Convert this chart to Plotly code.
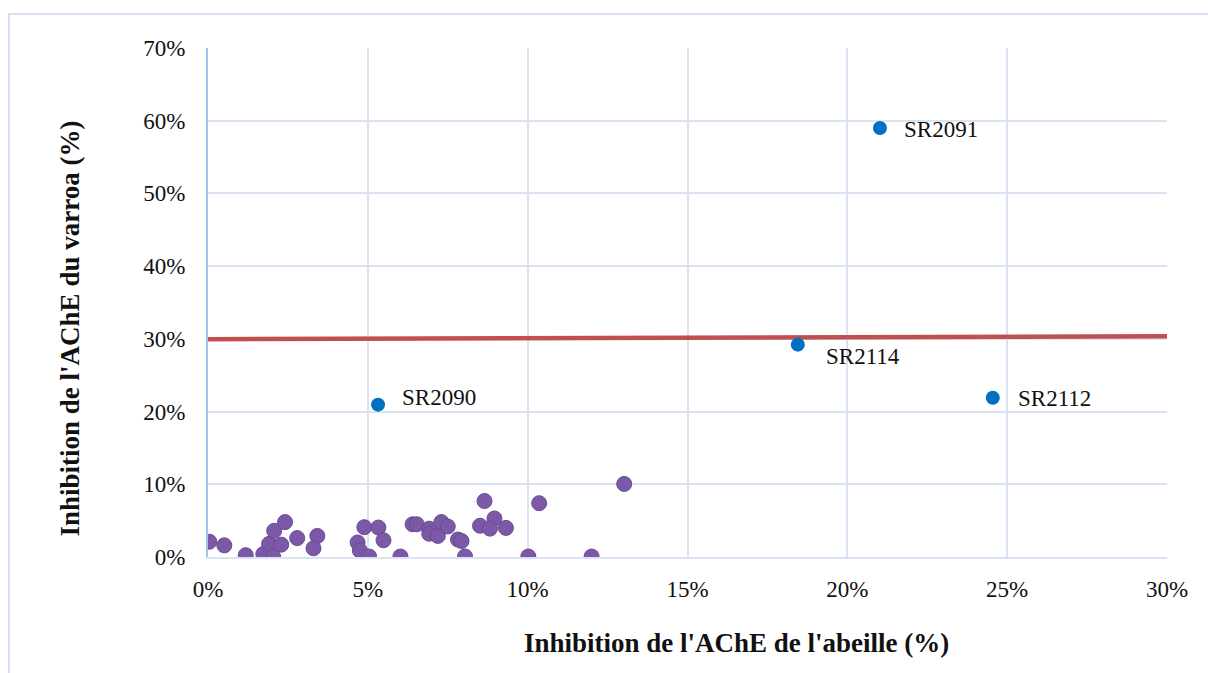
import plotly.graph_objects as go

# Inhibition de l'AChE (fractions) : abeille (x) vs varroa (y)
bee_inhib = [0.0004, 0.0051, 0.0118, 0.0173, 0.0191, 0.0204, 0.0207, 0.0241, 0.0229,
             0.0279, 0.0342, 0.0330, 0.0468, 0.0475, 0.0504, 0.0489, 0.0533, 0.0549,
             0.0602, 0.0640, 0.0653, 0.0692, 0.0692, 0.0719, 0.0730, 0.0750, 0.0782,
             0.0793, 0.0804, 0.0865, 0.0851, 0.0896, 0.0882, 0.0932, 0.1002, 0.1036,
             0.1200, 0.1302]
varroa_inhib = [0.021, 0.016, 0.0025, 0.004, 0.018, 0.000, 0.036, 0.048, 0.017,
                0.026, 0.029, 0.012, 0.020, 0.009, 0.0007, 0.041, 0.0405, 0.023,
                0.0007, 0.045, 0.045, 0.039, 0.032, 0.029, 0.048, 0.042, 0.024,
                0.022, 0.0007, 0.077, 0.043, 0.053, 0.039, 0.040, 0.0007, 0.074,
                0.0007, 0.1005]

# Composés sélectionnés
sel_names = ["SR2090", "SR2091", "SR2114", "SR2112"]
sel_bee = [0.0532, 0.2102, 0.1845, 0.2455]
sel_varroa = [0.2095, 0.590, 0.292, 0.219]
# décalage des étiquettes (px) par rapport au point
sel_label_dx = [22, 22, 26, 23]
sel_label_dy = [7, -2, -12, -1]

# Seuil de sélection
threshold_x = [0.0, 0.30]
threshold_y = [0.2995, 0.3035]

x_title = "Inhibition de l'AChE de l'abeille (%)"
y_title = "Inhibition de l'AChE du varroa (%)"

serif = "Liberation Serif, Times New Roman, serif"
grid_col = "#DAE3F3"

fig = go.Figure()

fig.add_trace(go.Scatter(
    x=threshold_x, y=threshold_y, mode="lines",
    line=dict(color="#C0504D", width=4.5), hoverinfo="skip", showlegend=False,
))

fig.add_trace(go.Scatter(
    x=bee_inhib, y=varroa_inhib, mode="markers",
    marker=dict(size=15, color="#7B59A7", line=dict(color="#6A4B96", width=1)),
    showlegend=False,
))

fig.add_trace(go.Scatter(
    x=sel_bee, y=sel_varroa, mode="markers",
    marker=dict(size=14, color="#0070C0"),
    showlegend=False,
))

for name, xv, yv, dx, dy in zip(sel_names, sel_bee, sel_varroa, sel_label_dx, sel_label_dy):
    fig.add_annotation(
        x=xv, y=yv, text=name, showarrow=False,
        xanchor="left", yanchor="middle", xshift=dx, yshift=dy,
        font=dict(family=serif, size=23, color="#111111"),
    )

# Titres des axes
fig.add_annotation(
    xref="paper", yref="paper", x=0.5516, y=-0.169,
    text="<b>" + x_title + "</b>", showarrow=False,
    xanchor="center", yanchor="middle",
    font=dict(family=serif, size=27, color="#111111"),
)
fig.add_annotation(
    xref="paper", yref="paper", x=-0.1439, y=0.449,
    text="<b>" + y_title + "</b>", showarrow=False, textangle=-90,
    xanchor="center", yanchor="middle",
    font=dict(family=serif, size=27, color="#111111"),
)

# Cadre extérieur du graphique
fig.add_shape(type="rect", xref="paper", yref="paper",
              x0=-0.2075, x1=1.2, y0=-0.4, y1=1.0668,
              line=dict(color="#D6E2F4", width=2), layer="below")

fig.update_layout(
    width=1208, height=673,
    margin=dict(l=208, r=41, t=48, b=116),
    paper_bgcolor="white", plot_bgcolor="white",
    font=dict(family=serif, size=23, color="#111111"),
    xaxis=dict(
        range=[0, 0.30], tickvals=[0, 0.05, 0.10, 0.15, 0.20, 0.25, 0.30],
        tickformat=".0%", showgrid=True, gridcolor=grid_col, gridwidth=2,
        zeroline=False, showline=True, linecolor=grid_col, linewidth=2,
        ticks="", ticklabelstandoff=10,
    ),
    yaxis=dict(
        range=[0, 0.70], tickvals=[0, 0.1, 0.2, 0.3, 0.4, 0.5, 0.6, 0.7],
        tickformat=".0%", showgrid=True, gridcolor=grid_col, gridwidth=2,
        zeroline=False, showline=True, linecolor="#9DC3E6", linewidth=2,
        ticks="", ticklabelstandoff=16,
    ),
)

fig.write_html("out.html")
